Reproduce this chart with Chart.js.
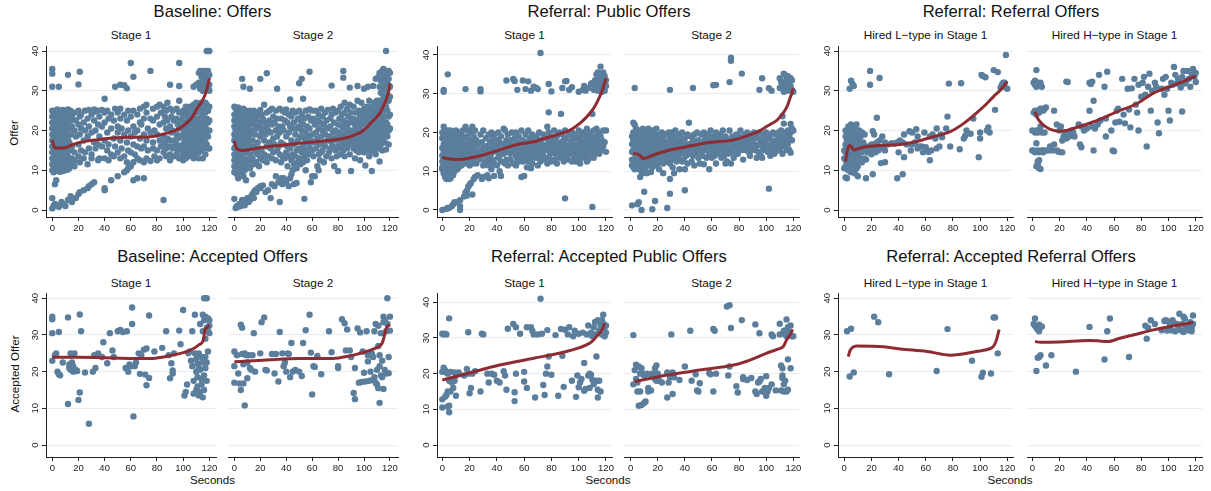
<!DOCTYPE html>
<html>
<head>
<meta charset="utf-8">
<script src="https://cdn.jsdelivr.net/npm/chart.js@4.4.1/dist/chart.umd.min.js"></script>
<style>
    body { margin: 0; background: #fff; width: 1211px; height: 491px; position: relative; overflow: hidden;
           font-family: "Liberation Sans", Arial, Helvetica, sans-serif; color: #111; }
    .t { position: absolute; white-space: nowrap; line-height: 1; transform: translate(-50%, -50%); }
    .gt { font-size: 16.6px; }
    .st { font-size: 11.8px; }
    .at { font-size: 11.6px; }
    .rot { transform: translate(-50%, -50%) rotate(-90deg); }
    canvas { position: absolute; }
</style>
</head>
<body>
<div class="t gt" style="left:212.5px;top:11.5px">Baseline: Offers</div>
<div class="t gt" style="left:609px;top:11.5px">Referral: Public Offers</div>
<div class="t gt" style="left:1011px;top:11.5px">Referral: Referral Offers</div>
<div class="t gt" style="left:212.5px;top:257px">Baseline: Accepted Offers</div>
<div class="t gt" style="left:609px;top:257px">Referral: Accepted Public Offers</div>
<div class="t gt" style="left:1011px;top:257px">Referral: Accepted Referral Offers</div>

<div class="t st" style="left:131px;top:36px">Stage 1</div>
<div class="t st" style="left:313px;top:36px">Stage 2</div>
<div class="t st" style="left:524.5px;top:36px">Stage 1</div>
<div class="t st" style="left:711.5px;top:36px">Stage 2</div>
<div class="t st" style="left:925.5px;top:36px">Hired L−type in Stage 1</div>
<div class="t st" style="left:1114.5px;top:36px">Hired H−type in Stage 1</div>
<div class="t st" style="left:131px;top:283.5px">Stage 1</div>
<div class="t st" style="left:313px;top:283.5px">Stage 2</div>
<div class="t st" style="left:524.5px;top:283.5px">Stage 1</div>
<div class="t st" style="left:711.5px;top:283.5px">Stage 2</div>
<div class="t st" style="left:925.5px;top:283.5px">Hired L−type in Stage 1</div>
<div class="t st" style="left:1114.5px;top:283.5px">Hired H−type in Stage 1</div>

<div class="t at rot" style="left:14px;top:133px">Offer</div>
<div class="t at rot" style="left:14.5px;top:374px">Accepted Offer</div>
<div class="t at" style="left:212.5px;top:480px">Seconds</div>
<div class="t at" style="left:608px;top:480px">Seconds</div>
<div class="t at" style="left:1010px;top:480px">Seconds</div>

<script>
(function() {
    'use strict';

    const xTicks = [0, 20, 40, 60, 80, 100, 120];
    const yTicks = [0, 10, 20, 30, 40];

    // --- Baseline: offers, stage 1  (columns: [second, [offers...]])
    const blOffS1 = [
        [0,[35.5,34.3,31,25,23.5,22,20.5,19,17.5,16,14.5,13,11.5,10,3,0.4]],
        [1,[24.5,21,18,15,12,9.5,1]],
        [2,[25,23,21.5,20,18.5,16.5,14,12.5,11,6.5,1.5]],
        [3,[24,22,19.5,17,15.5,13,10.5,7.5]],
        [4,[25.3,23,21,18,15,12,9.8,1]],
        [5,[31,24.5,22,20,17.5,16,13.5,11,10,0.8]],
        [6,[25,23.5,21.5,19,16.5,14,12.5,9.6]],
        [7,[24,22,20.5,18,15,12,10.5,2]],
        [8,[25.2,22.5,19.5,17,14.5,11.5,9.8,1.5]],
        [9,[24,21,18.5,16,13,10.5]],
        [10,[25,23,20,17.5,15,12.5,10,1]],
        [11,[24.5,22,19,14,11]],
        [12,[34,25.3,23.5,21,18,16.5,13.5,10.2,2.5]],
        [13,[24,20.5,17,12,10.5]],
        [14,[25,22.5,19,15,11.5,3.5]],
        [15,[23.5,21,16,13,2]],
        [17,[24.5,20,14.5,11,12.5]],
        [18,[22.5,18.5,3]],
        [20,[31.6,25,21.5,16.5,13.5,4]],
        [21,[34.8,23.5,19,12,4.5]],
        [22,[24,20.5,15]],
        [24,[22,17.5,13,5]],
        [25,[25,20,14.5]],
        [27,[23,18.5,11.5,5.5]],
        [28,[25.2,21,15.5,6]],
        [30,[24,19.5,14,13,6.5]],
        [32,[25.3,22.5,17,7]],
        [33,[24.8,20,15.5]],
        [35,[25,21.5,16.5,12.5]],
        [36,[23.5,18.5,13]],
        [38,[25.2,21,16]],
        [40,[28,24.5,22,17.5,13,5.5,5]],
        [42,[25,19.5,15]],
        [43,[23,12.5,16.5]],
        [45,[24,20.5,14,7.5]],
        [47,[22.5,18,13.5]],
        [48,[31,25.5,16]],
        [50,[24.5,21,19.5,14.5,8.5]],
        [52,[31.5,25.5,23,17.5,13]],
        [53,[20.5,15.5]],
        [55,[31.4,24,19,13.5,9.5]],
        [57,[30.6,22.5,17,12,10]],
        [58,[25,20,15,10.5]],
        [60,[37,23.5,18.5,14.5,11]],
        [62,[33.5,25,21,16.5,12,7.5]],
        [63,[19.5,14]],
        [65,[24,20,16,13,8]],
        [67,[25.5,22,18,12.5]],
        [68,[21.5,15.5]],
        [70,[26,23,19,16,12,8]],
        [72,[26.5,24.5,17.5,13]],
        [73,[20.5,15]],
        [75,[35,23,19.5,12.3]],
        [77,[25.5,22.5,17,15.5]],
        [78,[20,13.5]],
        [80,[26,23.5,19,15,12.5]],
        [82,[26.5,21.5,17.5,13]],
        [83,[24.5,16]],
        [85,[26,22,18.5,14.5,2.5]],
        [86,[23.5,17]],
        [87,[25,20.5,15.5,13.5]],
        [88,[27,22.5,18,16]],
        [90,[31.5,25.5,21,17.5,14,12.5]],
        [91,[23.5,19.5,16]],
        [92,[25,20,15.5]],
        [93,[22.5,17.5,13.5]],
        [95,[25.5,23,19,16.5,14]],
        [96,[21.5,18,15]],
        [97,[37,31.2,27.5,24.5,20.5,16,13]],
        [98,[22.5,18.5,15.5]],
        [100,[25,23.5,21,19,16.5,14,12.5]],
        [101,[24,20,17.5,15]],
        [102,[26,22,18,15.5,13]],
        [103,[25,21,16.5,14.5]],
        [104,[23,19.5,17,15,13.5]],
        [105,[26,24,21.5,18.5,16,14]],
        [106,[25.5,22.5,20,17,15]],
        [107,[24,21.5,19,16.5,14.5]],
        [108,[31,26.5,23,20,18,15.5,13]],
        [109,[25,22,19.5,17,14]],
        [110,[31.5,27,24.5,21,18.5,16,15]],
        [111,[25.5,23,20,17.5,15.5]],
        [112,[34.5,32,26,22,19,16.5,14.5,13]],
        [113,[35,30.5,25,21.5,18,16]],
        [114,[33.5,31,27,23.5,20.5,17,15]],
        [115,[35,32.5,30,26,24,21,18.5,16.5,13]],
        [116,[34,31.5,25.5,22.5,19.5,17.5,15.5]],
        [117,[35,33,30.5,27,24.5,21,17,14]],
        [118,[40,34.5,32,31,26.5,23,20,16.5]],
        [119,[40,35,33.5,30.5,25,22,18.5,15.5]],
        [120,[40,34,31.5,30,26,22.5,20,15.5]]
    ];
    const blOffS1Fit = [[0,17.6],[1,16.2],[3,15.6],[7,15.6],[11,15.8],[16,16.5],[24,17.2],[35,17.7],[49,18.2],[62,18.3],[75,18.4],[87,19.3],[93,19.9],[98,20.7],[102,21.7],[105,22.6],[108,23.9],[110,25.2],[113,26.6],[115,27.7],[117,29.2],[118,30.2],[119,31.6],[120,33.1]];

    // --- Baseline: offers, stage 2
    const blOffS2 = [
        [0,[26,24,22.5,21,19,17.5,15.5,14,12.5,11,9.5,2.8]],
        [1,[25.5,23,20,18,16,13,10.5,0.5]],
        [2,[24.5,22,19.5,17,14.5,12,9,1]],
        [3,[25.8,23.5,21,18.5,15,13.5,11,8,0.8]],
        [4,[24.5,22.5,20,16.5,12.5,10,1.5]],
        [5,[25,21.5,19,17,14,11.5,9.5,1]],
        [6,[33,24,22,18,15.5,13,10.5,2.5]],
        [7,[31,25.5,23,20.5,17.5,14.5,12,8.5,2]],
        [8,[24,21.5,19,16,13,10,1.2]],
        [9,[25,22.5,20,17,14.5,11.5,7.5,2.5]],
        [10,[23.5,20.5,18,15,12.5,3]],
        [11,[24.5,21,16.5,11,2]],
        [12,[30.5,25,22,19,14,10.5,2.5]],
        [13,[23,20,15.5,12.5,3.5]],
        [14,[24,17.5,13,9,4]],
        [15,[25,21.5,16,11.5,4.5,3]],
        [16,[22.5,19,14.5,5]],
        [17,[24.5,20.5,12,4.5]],
        [18,[23.5,17,14,5.5]],
        [19,[21,15.5,11]],
        [20,[33,25.2,22,18.5,13,5.5,6]],
        [21,[24,19.5,15]],
        [22,[23,20.5,6.2,12.5]],
        [23,[26.5,17.5,14]],
        [24,[22,19,4.5]],
        [25,[34.4,24.5,21,16,12]],
        [26,[20,13.5,5]],
        [27,[25,22.5,17]],
        [28,[19.5,15.5,3]],
        [29,[25.5,21.5,13,6.5]],
        [30,[23.5,18,14.5]],
        [31,[22,16.5,6]],
        [32,[25,20,12.5,8.5]],
        [33,[30.5,23,18.5,15]],
        [34,[21,16,7]],
        [35,[25.5,19.5,14,2]],
        [36,[23,17,12,8]],
        [37,[25,21,13.5,6.5]],
        [38,[20,16.5,8]],
        [39,[24.5,22.5,13,7.5]],
        [40,[25.3,18.5,14.5,7]],
        [41,[22,16,11]],
        [42,[24,19.5,13.5,6]],
        [43,[27.8,21,15.5,8]],
        [44,[23.5,17.5,12.5,9]],
        [45,[25,20.5,14,10]],
        [46,[22,16.5,11.5,6.5]],
        [47,[24.5,19,13.5]],
        [48,[20.5,15,10.5,6.8]],
        [49,[23,17.5,12]],
        [50,[31.9,25,21,15.5,13]],
        [51,[22.5,18.5,11.5]],
        [52,[33,24,20,14.5]],
        [53,[28,21.5,16,12]],
        [54,[23,18,13.5,2.8]],
        [55,[25,19.5,15,10]],
        [56,[21,17,12.5]],
        [57,[23.5,18.5,14]],
        [58,[34.8,25.3,20.5,16]],
        [59,[22.5,17.5,7]],
        [60,[25,19,15,8.5]],
        [61,[23,13.5]],
        [62,[21.5,17,8.5]],
        [63,[25,19.5,15.5]],
        [64,[22.5,18,11]],
        [65,[24,20.5,14,10]],
        [66,[22,16.5,12.5]],
        [67,[25.5,18.5,14.5]],
        [68,[23.5,20,15]],
        [69,[21.5,17,12]],
        [70,[24.5,19,16]],
        [71,[22.5,13.5]],
        [72,[25.2,20.5,17.5]],
        [73,[18.5,14.5]],
        [74,[23,21,15.5]],
        [75,[31.3,24,17,13]],
        [76,[25.5,19.5,16]],
        [77,[22,18,11]],
        [78,[24.5,20,15]],
        [79,[17.5,13.5]],
        [80,[25,21.5,18.5,16,9.8]],
        [81,[23,19.5,15.5]],
        [82,[26,17.5,14]],
        [83,[24,21,18,16.5]],
        [84,[35,33.3,22.5,19,15]],
        [85,[27,24.5,20.5,17.5,13.5]],
        [86,[22,19,16]],
        [87,[25.5,21,18.5,15.5]],
        [88,[23.5,20,17]],
        [89,[30.8,26.5,22,18,14]],
        [90,[24.5,19.5,16.5,9.8]],
        [91,[22.5,20,17.5]],
        [92,[26,23,18.5,15.5]],
        [93,[21.5,17,13]],
        [94,[24.5,20.5,18,15]],
        [95,[31.2,27.5,22.5,19.5,16.5]],
        [96,[25,21,17.5,14.5]],
        [97,[23.5,20,16,12.5]],
        [98,[27,24.5,21.5,18.5,15]],
        [99,[22,19,16.5]],
        [100,[30.5,25.5,23,20,17.5,14.5]],
        [101,[24,21.5,18,15.5,11.2]],
        [102,[26,22.5,19.5,16.5]],
        [103,[31,25,21,18,15]],
        [104,[27.5,23.5,19.5,16,13.5]],
        [105,[25,22,18.5,15.5]],
        [106,[26,23.5,20.5,17,14.5,9.8]],
        [107,[31.2,25.5,22.5,19.5,16]],
        [108,[27,24,21,17.5,15]],
        [109,[33,25,22.5,19,16.5,14]],
        [110,[27.5,24,20.5,18,15.5]],
        [111,[33.5,26,22,19.5,16.5]],
        [112,[34.5,31,27.5,24,21,18,15.5,12.2]],
        [113,[32.5,29.5,25,22.5,19.5,16.5]],
        [114,[35,33,30,26.5,23,20,17.5,15]],
        [115,[35.5,32,28.5,25,21.5,18.5]],
        [116,[34,31,27,23.5,20.5,17]],
        [117,[40,35,33.5,30.5,26,22,19.5,15.2]],
        [118,[34.5,32,29,25,21.5,18.5]],
        [119,[35,33,31,27.5,23.5,20,16.5]],
        [120,[34.5,31,28.5,24,20.5]]
    ];
    const blOffS2Fit = [[0,17.4],[1,16],[3,15.2],[6,15],[10,15.1],[17,15.5],[25,15.9],[37,16.3],[50,16.8],[63,17.2],[76,17.6],[84,18],[89,18.4],[94,19],[98,19.7],[102,20.7],[105,21.8],[109,23.1],[112,24.3],[115,26.2],[117,27.7],[119,29.8],[120,31.9]];

    // --- Referral: public offers, stage 1
    const rfPubS1 = [
        [0,[20,18.5,16,14,12.5,11,10.5,0]],
        [1,[31,30.5,21.5,19.5,17,15,13,11.5,9.5]],
        [2,[20.5,18,15.5,13.5,12,10,8.5]],
        [3,[19,16.5,14.5,12.5,11,8,0.3]],
        [4,[35,20.5,17.5,15,13,11.5,9,0.5]],
        [5,[19.5,16,14,12,10.5,8,0.5]],
        [6,[20.5,18,15,13.5,11.5,9.5,8.2]],
        [7,[19,16.5,14.5,12.5,10.5,1]],
        [8,[20,17.5,15.5,13,11,9,1.5]],
        [9,[18.5,16,14,12,10,2]],
        [10,[20.5,17,15,13,11.5,2]],
        [11,[19,16,14,12.5,10.5]],
        [12,[20,17.5,15.5,13,11]],
        [13,[18.5,14.5,12,2.5,1,0]],
        [14,[19.5,16,13.5,11.5]],
        [15,[20.5,17,14.5,12.5]],
        [16,[18.5,15.5,13,3.5]],
        [17,[31.2,21.5,17,14,12,4.5]],
        [18,[19,16.5,13.5,3.7,5]],
        [19,[20.5,15,12.5,6]],
        [20,[18,14,11.5,6.5]],
        [21,[20,16.5,13,7]],
        [22,[21.5,17.5,14.5,12,4]],
        [23,[19,15.5,8]],
        [24,[20.5,16.5,13.5,8.5]],
        [25,[18,14,12]],
        [26,[17,15,9]],
        [28,[31.2,30.6,19.5,15.5,13]],
        [29,[17.5,14,8]],
        [30,[20.5,16,11.5,8.5]],
        [32,[18.5,15,12.5]],
        [33,[16.5,13.5,9]],
        [34,[19.5,14,11.5,8.2]],
        [35,[17.5,15.5,12.5]],
        [36,[20,14.5,10.5]],
        [37,[18.5,16,13]],
        [38,[19.5,17,8.8,12]],
        [40,[18,15,11.5]],
        [41,[20,16.5,13.5]],
        [42,[17.5,14,10]],
        [43,[19,15.5,12.5,8.8]],
        [45,[21,17,14.5]],
        [46,[20.5,16,12]],
        [47,[33.4,18,15,13]],
        [48,[19.5,16.5,11.5]],
        [50,[18,14.5,13]],
        [51,[20,17,15.5]],
        [52,[33.8,16.5,12]],
        [53,[33.3,18.5,15]],
        [54,[20,14,11.5]],
        [55,[31,17.5,16,13]],
        [56,[19,15.5,12.5]],
        [57,[17,14]],
        [58,[20.5,16,8.5]],
        [59,[33.4,18,15,12.5]],
        [60,[16.5,13.5,8.8]],
        [61,[31.2,19.5,15]],
        [62,[17.5,14,11]],
        [63,[33.2,20.5,16.5,12.5]],
        [64,[18.5,15.5,13]],
        [65,[30.8,17,14,10.8]],
        [66,[19.5,16,12]],
        [67,[31.8,18,14.5]],
        [68,[16.5,13.5]],
        [69,[31.5,19,15]],
        [70,[31.2,17.5,13.5,11.5]],
        [71,[20,16,14.5]],
        [72,[40.5,18,12.5]],
        [73,[17,15]],
        [74,[19.5,14]],
        [75,[16,13]],
        [76,[18.5,15.5]],
        [77,[21.5,17,12]],
        [78,[32.5,25.2,20,16,13.5]],
        [79,[18,14.5]],
        [80,[30.6,19,16.5,12.5]],
        [81,[17.5,15]],
        [82,[20.5,16,13]],
        [83,[18,14.5]],
        [84,[19,15.5,12]],
        [85,[17,16.5]],
        [86,[20,15,13.5]],
        [87,[24.8,17.5]],
        [88,[31.5,19.5,16,14]],
        [89,[18,12.5]],
        [90,[33.2,20.5,17,15,3]],
        [91,[33.3,18.5,14]],
        [92,[16.5,13]],
        [93,[31,19.5,15.5]],
        [94,[17.5,14.5]],
        [95,[31.7,20,16,12.5]],
        [96,[18.5,15,13]],
        [97,[19.5,17,14]],
        [98,[16,12.5]],
        [99,[18.5,15]],
        [100,[30.5,20.5,17,14,13]],
        [101,[19,16,12]],
        [102,[17.5,14.5]],
        [103,[31,20,16.5,13.5]],
        [104,[32,18,15.5]],
        [105,[30.8,19.5,17,14]],
        [106,[21,16,12.5]],
        [107,[31.5,18.5,15,13]],
        [108,[20,17.5,14.5]],
        [109,[32.5,19,16]],
        [110,[32.8,24.8,18,15,0.8]],
        [111,[31,20.5,17,13.5]],
        [112,[33.5,31.5,19,16,14.5]],
        [113,[35,32,21,17.5,15.5]],
        [114,[35.5,33.5,30.8,18.5,16]],
        [115,[34,31.5,20,17,14.5]],
        [116,[37,35,33,31,19,16.5]],
        [117,[34.5,32.5,30.5,18,15.5]],
        [118,[35.5,33.5,31.5,20.5,16.5]],
        [119,[34.5,32.5,30.8,17.5]],
        [120,[33.5,32,20.5,15]]
    ];
    const rfPubS1Fit = [[0,13.6],[4,13.2],[10,13],[15,13.1],[20,13.4],[30,14.2],[42,15.5],[54,16.8],[67,17.6],[79,18.9],[91,20.2],[96,21.1],[101,22.4],[105,23.7],[108,24.9],[111,26.3],[113,27.5],[115,29],[117,30.6],[119,32.8],[120,34]];

    // --- Referral: public offers, stage 2
    const rfPubS2 = [
        [1,[19,17,15,13,11.5,1.2]],
        [2,[22.5,20,18,15.5,12.5,11]],
        [3,[31.5,22,19.5,17.5,14.5,12,10.5]],
        [4,[21,18.5,16,13.5,11.5]],
        [5,[20,17.5,15,12.5,11,1.5]],
        [6,[19,16.5,14,12,10.5,2]],
        [7,[20.5,18,15.5,13,11.5,8.5]],
        [8,[19.5,17,14.5,12.5,10,0]],
        [9,[21,18.5,16,13.5,11.5,9.5]],
        [10,[19.5,17,14.5,12.5,4.7]],
        [11,[20.5,18,15.5,13,11]],
        [12,[19,16.5,14,12,9.5]],
        [13,[21,18,15,13,11.5]],
        [14,[19.5,17,14.5,12.5]],
        [15,[20.5,18,15.5,12,9.8]],
        [16,[19,16.5,13.5,11,0.2]],
        [17,[20.5,17.5,15,12.5]],
        [18,[19.5,16,14,11.5,2.3]],
        [19,[21,18,15.5,13]],
        [20,[17,14.5,12]],
        [21,[19.5,16,13.5,10.5]],
        [22,[18,15,12.5]],
        [23,[20,16.5,14]],
        [24,[18.5,15.5,12,9.5]],
        [25,[17,13.5]],
        [26,[19.5,16,14.5]],
        [27,[17.5,15,12.5,0.5]],
        [28,[20,16.5,13.5]],
        [29,[31,18.5,15,12,4.2,8]],
        [30,[20,16.5,14]],
        [31,[17.5,13,11]],
        [32,[19,15.5,9.5]],
        [33,[20.5,17,14.5]],
        [34,[18,15.5,12.5]],
        [35,[16.5,13.5]],
        [36,[19.5,16,10.5]],
        [37,[18,14.5]],
        [38,[20,17,12.5]],
        [39,[15.5,13]],
        [40,[18.5,16,5.1,10.5]],
        [41,[17,14]],
        [42,[19.5,15.5,12]],
        [43,[22.5,17,14.5]],
        [44,[19,16.5]],
        [45,[15,12.5]],
        [46,[31.5,18,14]],
        [47,[19.5,16,11.5]],
        [48,[17,14.5]],
        [49,[20,15.5]],
        [50,[18,13.5]],
        [51,[16.5,12]],
        [52,[19.5,15]],
        [53,[17.5,14]],
        [54,[20,16,11.8]],
        [55,[18.5,15.5]],
        [56,[17,13.5]],
        [57,[19.5,16.5]],
        [58,[18,14.5,10.5]],
        [59,[20.5,16]],
        [60,[17.5,13.5]],
        [61,[32.2,19,15.5]],
        [62,[17.5,14]],
        [63,[32.3,20,16.5,12]],
        [64,[18.5,15]],
        [65,[17,14.5]],
        [66,[19.5,16]],
        [67,[18,13.5]],
        [68,[20.5,15.5]],
        [69,[17,14]],
        [70,[19,16.5,12]],
        [71,[15.5,12.5]],
        [72,[18,14.5]],
        [73,[33,20.5,16]],
        [74,[39.3,38.5,17.5,12]],
        [75,[19,15]],
        [76,[16.5,13.5]],
        [77,[18,15]],
        [78,[19.5,16]],
        [79,[17.5,14.5]],
        [80,[19,16]],
        [81,[20.5,17.5]],
        [82,[35.2,18,15.5]],
        [83,[16.5,13]],
        [84,[19.5,17]],
        [85,[15.5,18]],
        [86,[20,16.5]],
        [87,[18.5,15]],
        [88,[17,14]],
        [89,[19.5,16.5]],
        [90,[18,15.5]],
        [91,[17,20]],
        [92,[19,15.5]],
        [93,[16.5,13.5]],
        [94,[18.5,15]],
        [95,[31,20,17]],
        [96,[18,14]],
        [97,[34,16.5,13.5]],
        [98,[19.5,15.5]],
        [99,[18,16.5]],
        [100,[20,17]],
        [101,[18.5,15]],
        [102,[31.4,16.5,5.5]],
        [103,[19.5,14]],
        [104,[30.8,18,15.5]],
        [105,[20,16.5]],
        [106,[17.5,14.5]],
        [107,[19.5,15]],
        [108,[18,16.5]],
        [109,[20,17]],
        [110,[34,31.5,18.5,15.5]],
        [111,[33,20.5,16.5]],
        [112,[31.5,24.2,18,14.5]],
        [113,[35.2,33,30.5,22.3,19.5,16.5]],
        [114,[34.8,32,31,20,17.5]],
        [115,[33.5,31.5,18.5,15.5]],
        [116,[34.5,32.5,30.8,20.5,17]],
        [117,[33,31.5,19,15.5]],
        [118,[34,32,22.2,20,14.8]],
        [119,[33.5,31,21,18]],
        [120,[30.5,20.5]]
    ];
    const rfPubS2Fit = [[2,14.6],[5,14.4],[7,14],[9,13.3],[12,13.5],[17,14.2],[27,15.3],[41,16.3],[58,17.4],[76,18.1],[88,19.4],[95,20.4],[100,21.5],[104,22.3],[108,23.2],[111,24.4],[114,25.8],[116,27.2],[117.5,28.8],[119,30.2],[120,31.4]];

    // --- Referral: referral offers, hired L-type in stage 1
    const rfRefL = [
        [0,[10.5,13,15]],
        [1,[20,18.5,16.5,14.5,12.5,11,8.2]],
        [2,[19.5,17.5,15.5,13,11.5,8]],
        [3,[21,19,16.5,14,12,10]],
        [4,[30.5,20,18,15,13.5,11.5]],
        [5,[32.5,21.5,19.5,17,14.5,12.5,9.5]],
        [6,[31.8,20,17.5,15.5,13,11]],
        [7,[31.2,19,16.5,14,12,10]],
        [8,[20.5,18,15,13.5,11.5,9.2]],
        [9,[21.5,17,14.5,12.5,10.5]],
        [10,[19,16,13.5,11,8.5]],
        [11,[20,17.5,15,12.5]],
        [12,[18.5,16,13]],
        [13,[19.5,14.5,12]],
        [14,[17,15.5]],
        [15,[19,13]],
        [16,[8,12.7]],
        [17,[16,14.5]],
        [19,[35,31.5,15]],
        [20,[16.5,14]],
        [21,[19.8,9,15.5]],
        [22,[19,16.5]],
        [23,[14.5]],
        [24,[23.2,16,17]],
        [25,[15]],
        [26,[33.2,17.5]],
        [27,[11.8,15.5]],
        [28,[18.5]],
        [29,[16]],
        [30,[12,17,15]],
        [32,[16.5]],
        [35,[16.8]],
        [37,[16.7]],
        [39,[8,17]],
        [40,[14.5]],
        [41,[17.5]],
        [43,[9,17]],
        [44,[13.3,19]],
        [46,[16.5]],
        [48,[19.8]],
        [49,[15]],
        [50,[16.5,19.5]],
        [52,[17]],
        [53,[20.3]],
        [54,[18.5,15.5]],
        [55,[16]],
        [57,[16]],
        [58,[14.5]],
        [59,[19.5]],
        [60,[15.8]],
        [62,[14.6]],
        [63,[12.5,18.5]],
        [64,[15]],
        [65,[19]],
        [67,[18]],
        [68,[20.5,15.5]],
        [70,[16]],
        [71,[19]],
        [72,[18.3]],
        [75,[20.5]],
        [76,[23.5]],
        [77,[31.8]],
        [78,[16]],
        [85,[15.3]],
        [86,[31.9]],
        [88,[18]],
        [89,[18.6]],
        [90,[20]],
        [93,[19.2]],
        [95,[23]],
        [99,[13.3]],
        [100,[18,19.5]],
        [101,[34]],
        [102,[33.7]],
        [104,[33.4]],
        [105,[20]],
        [106,[20.8]],
        [107,[19.5]],
        [110,[35.2]],
        [111,[25.2]],
        [113,[34.7]],
        [115,[30.8]],
        [116,[31.5]],
        [117,[32]],
        [118,[32,31]],
        [119,[39]],
        [120,[30.5]]
    ];
    const rfRefLFit = [[1,12.2],[2,14.5],[3.7,16.2],[5,16],[7,15.1],[10,15.4],[16,15.9],[25,16.2],[41,16.5],[53,17.2],[65,18.4],[78,19.7],[88,21.8],[97,24.3],[105,26.8],[110,28.6],[115,30.2],[120,32.3]];

    // --- Referral: referral offers, hired H-type in stage 1
    const rfRefH = [
        [0,[20,15]],
        [1,[32,24.5,15]],
        [2,[31.5,32.5,25,19.5,14.5]],
        [3,[35.2,32,31,24,20,16.8,14.8,11]],
        [4,[32,25,19.5,15,12.2,11.5]],
        [5,[31.5,24.5,20,14.5,10.5,12.5]],
        [6,[32,25.5,21,14.8,10.3]],
        [7,[31,25.5,19.5,15]],
        [8,[25,15,14.5]],
        [9,[25.5,19.5]],
        [10,[25.8,15]],
        [12,[15]],
        [13,[16]],
        [15,[15]],
        [16,[25,16.5]],
        [18,[21.5,15]],
        [19,[14.7]],
        [20,[20,14.6]],
        [21,[21]],
        [22,[17.5,14.5]],
        [23,[18.5]],
        [24,[19.5]],
        [25,[32.3,18]],
        [26,[32.2]],
        [27,[18.5,19]],
        [29,[20]],
        [30,[19.5]],
        [31,[18.5]],
        [34,[21.5]],
        [35,[16.5]],
        [36,[15.8,21]],
        [38,[20]],
        [40,[20.5]],
        [42,[25,32]],
        [43,[31.7]],
        [44,[32.3,21]],
        [45,[27.5,15]],
        [46,[20.5]],
        [48,[21.5]],
        [49,[34]],
        [50,[22.5]],
        [53,[31]],
        [54,[23,18.5]],
        [55,[34.8]],
        [58,[20]],
        [59,[15]],
        [60,[14.8]],
        [61,[22]],
        [62,[25]],
        [63,[25.5]],
        [64,[22.2]],
        [66,[33]],
        [67,[24]],
        [68,[21.8]],
        [70,[30.5]],
        [71,[25.3]],
        [72,[20.8]],
        [73,[30.6]],
        [75,[33]],
        [76,[26.5]],
        [77,[24.5]],
        [78,[31.5,20]],
        [80,[28.5]],
        [81,[32]],
        [82,[33.5]],
        [83,[29]],
        [84,[16]],
        [85,[31]],
        [86,[34.3]],
        [87,[25]],
        [88,[30]],
        [90,[32]],
        [91,[31]],
        [92,[22]],
        [93,[19.3]],
        [95,[30.5]],
        [96,[33]],
        [97,[29]],
        [98,[33.5]],
        [99,[30.5]],
        [100,[25]],
        [101,[22.5]],
        [102,[32]],
        [103,[31.5]],
        [104,[36]],
        [105,[34]],
        [106,[31.8]],
        [107,[33]],
        [108,[32]],
        [109,[30.8]],
        [110,[33.5,24.8]],
        [111,[35]],
        [112,[31.8]],
        [113,[32.5]],
        [114,[35]],
        [115,[33]],
        [116,[31]],
        [117,[34]],
        [118,[35.5]],
        [119,[33.5]],
        [120,[34.5,32.2]]
    ];
    const rfRefHFit = [[2,24.7],[4,23],[8,21.4],[12,20.5],[15,20.1],[20,19.8],[25,20],[30,20.5],[45,22.2],[62,24.7],[77,26.8],[89,29.4],[104,31.4],[112,32.5],[120,33.7]];

    // --- Baseline: accepted offers, stage 1  ([second, offer] pairs)
    const blAccS1 = [[0,35],[0,34.3],[0,30.5],[0,23],[2,24.5],[3,25],[4,20],[5,30.8],[5,19.3],[6,19],[8,22.5],[12,34.8],[12,11.2],[13,21],[13,22],[14,25],[14,20.5],[15,22.5],[16,21.5],[16,20],[17,25],[18,20.5],[19,20.2],[20,12.3],[21,14.3],[21,35.6],[22,31],[25,19.8],[28,5.8],[31,20],[32,24.5],[33,21],[35,25],[38,24],[39,28],[42,22.3],[44,30.5],[46,25.8],[47,24],[50,31],[52,31.4],[54,30.8],[56,21],[57,31],[58,20],[59,22],[60,21.5],[61,37.5],[61,33],[62,7.8],[63,21.5],[64,22.5],[66,25],[67,19.4],[68,24.5],[70,26],[71,19.2],[72,26.3],[72,16.3],[74,35.3],[74,18.3],[78,25.5],[84,26.5],[87,31],[89,24.5],[90,18.2],[91,22.3],[92,20.3],[92,19.5],[93,25],[97,31.2],[98,27.5],[100,36.8],[101,13.5],[102,14.5],[103,16.5],[104,25],[105,25.5],[106,23],[107,21.5],[107,31],[108,17.5],[108,14],[109,25],[109,35.5],[110,20],[110,15],[110,23.5],[111,16],[111,22.3],[111,18.5],[112,13.5],[112,25],[112,21],[113,20.5],[113,14.5],[113,33],[114,18],[114,24],[114,16.5],[115,31],[115,35.5],[115,13],[115,22.5],[116,40],[116,34],[116,19],[116,15],[117,21],[117,29],[117,24],[117,35],[118,40],[118,32],[118,22.5],[118,17.5],[119,31],[119,25.5],[119,34.5],[120,32.5],[120,34],[120,30.5]];
    const blAccS1Fit = [[0,23.9],[20,23.9],[40,23.8],[60,23.6],[75,23.6],[85,24],[92,24.5],[100,25.2],[103,25.5],[108,26.3],[112,27.3],[115.4,28.6],[116.7,31.4],[118,32],[120,32.7]];

    // --- Baseline: accepted offers, stage 2
    const blAccS2 = [[0,25.5],[0,21.5],[0,17],[2,24.5],[3,19.5],[4,16.8],[5,15],[5,32.8],[6,32],[6,24.8],[7,16.8],[7,22],[8,10.8],[8,25],[9,24.5],[10,18.2],[10,22.5],[11,24.5],[12,21],[13,20.5],[14,24.5],[15,30.5],[16,20],[20,25],[21,33.5],[23,34.8],[24,20.5],[25,20.3],[29,24.8],[31,19.5],[32,24.8],[34,17.3],[35,30.8],[37,25],[38,21.5],[39,22.5],[40,20],[41,25],[42,24.8],[43,18.5],[44,27.8],[45,20],[47,20.5],[50,20],[52,18.8],[53,27.8],[55,31.3],[58,35.5],[59,25.2],[60,13.8],[61,21.5],[62,21.3],[64,24.3],[67,19.3],[73,31],[75,25.3],[80,21.5],[80,21],[83,34.3],[85,33.2],[87,31.5],[86,25.8],[89,25.8],[90,24],[92,14.2],[93,12.5],[93,21],[95,31.8],[96,17],[97,30.7],[98,17.2],[99,25.5],[100,19.7],[101,17.3],[102,31],[103,24.5],[103,22.8],[104,17.5],[105,20],[106,17.7],[106,25],[107,24],[108,18.5],[108,31],[109,17],[109,33],[110,16.5],[110,20.5],[111,15.5],[111,27],[111,32.5],[112,11.5],[112,21.5],[112,24.5],[113,19],[113,30.5],[114,18.5],[114,23],[115,35],[115,33.5],[115,15.3],[116,20.5],[116,34],[117,19.5],[117,31],[118,40],[118,33],[119,24],[119,19.6],[120,31.2],[120,35]];
    const blAccS2Fit = [[0,22.7],[10,22.9],[25,23.2],[50,23.6],[76,23.6],[89,24.3],[96,24.9],[102,25.5],[108,26.3],[112,27],[114,27.8],[115.5,29.5],[117,31.6],[118.5,32.5],[120,32.8]];

    // --- Referral: accepted public offers, stage 1
    const rfAccS1 = [[0,31.2],[0,20.5],[0,12.8],[0,10.5],[1,21.7],[1,31],[2,31.2],[2,21],[2,13.5],[3,31],[3,20.3],[3,14],[4,20],[4,15],[4,10.8],[5,35.5],[5,18],[5,11],[5,9.2],[6,20.5],[6,15],[7,17.5],[8,18.5],[8,16],[9,20.3],[9,18],[10,13.8],[10,19.5],[12,20.3],[16,19.5],[18,21.3],[19,31.6],[19,20],[20,14.5],[21,16],[22,20],[24,20.7],[28,15],[29,31.2],[30,31],[33,20],[34,17.5],[36,20],[38,19.7],[40,18],[42,17.5],[45,20.7],[46,19.5],[47,15.5],[48,32.6],[52,33.9],[53,12.3],[53,14.8],[54,20],[54,33],[57,31.2],[60,20.5],[60,17.8],[62,33],[62,16],[65,33],[66,32],[67,31],[68,13.3],[70,31],[72,41],[73,31.2],[74,16.8],[75,14],[76,20],[77,32.2],[77,22],[78,24.8],[80,19.7],[83,30.8],[85,13.8],[87,32.5],[88,25],[89,16.3],[90,32.3],[92,31],[93,33],[95,18],[96,30.5],[97,32],[98,13.5],[99,19.5],[100,31.2],[100,16.2],[101,17.5],[102,18.5],[103,31.5],[104,23],[104,15.2],[105,15.7],[106,31],[107,19.5],[107,33.5],[108,20],[108,16],[109,19.7],[109,31.5],[110,30.5],[110,18.3],[111,33],[111,17],[112,31],[112,34.5],[113,24.8],[113,18],[114,35],[114,13.3],[114,15.5],[115,32],[115,18],[116,33.5],[116,15],[117,35],[117,31],[118,36.5],[118,34],[119,33],[119,30.5],[120,33.5],[120,31.5]];
    const rfAccS1Fit = [[0,18.2],[20,20.2],[42,22.4],[67,24.3],[91,26.2],[100,27.2],[108,28.5],[111,29.5],[113,30.4],[115,31.3],[117,32.2],[119,34.1]];

    // --- Referral: accepted public offers, stage 2
    const rfAccS2 = [[2,30.8],[2,17],[3,21],[4,22.5],[4,18.5],[5,17.5],[5,15],[6,11],[6,22],[7,15],[7,20],[8,21.5],[8,11.2],[9,20],[10,11.8],[10,19.5],[11,12.2],[12,20],[13,16],[13,15],[14,19.8],[15,15.3],[16,20],[17,19.5],[18,21.5],[18,18.5],[19,22.3],[19,18],[20,20],[21,18],[23,17.5],[27,20.3],[27,13.3],[28,17.5],[29,19],[30,31],[31,14.3],[31,20.3],[32,19],[36,18.2],[40,22],[44,32],[45,18],[48,19.8],[49,15.3],[50,15],[51,17.3],[58,20.2],[59,19.8],[61,32.5],[61,15],[62,32],[63,20],[71,38.8],[72,19.5],[73,39.2],[73,22],[74,32.8],[78,16.5],[79,14.7],[82,35],[83,19],[83,18.5],[86,18.2],[89,18.8],[92,33.8],[92,15],[93,14.3],[94,17.5],[95,17.8],[95,31.3],[96,18.5],[97,15],[99,16],[100,19.3],[100,13.8],[101,15],[102,16],[104,17],[104,31],[105,30.5],[107,15.3],[110,34],[110,31],[111,22.3],[111,15.3],[112,21.5],[112,19.5],[112,18.8],[113,32],[113,15],[113,17],[114,31],[114,18],[115,35.2],[115,30.5],[115,15],[116,33],[116,24],[116,15.5],[117,31.5],[118,33.5],[118,21.5],[119,30.5],[120,30.5]];
    const rfAccS2Fit = [[3,17.8],[15,18.7],[27,19.6],[51,21],[76,22.4],[88,23.8],[100,25.7],[108,26.8],[112.6,27.6],[115,29.4],[117.5,30.8],[119.5,32.4]];

    // --- Referral: accepted referral offers, hired L-type / H-type
    const rfAccL = [[2,31],[4,18.7],[5,31.7],[7,19.8],[22,35],[25,33.5],[33,19.3],[68,20.2],[76,31.6],[94,23],[101,18.6],[102,19.7],[108,19.5],[110,34.8],[111,34.8],[113,25]];
    const rfAccLFit = [[3,24.1],[4,25.5],[5.4,26.4],[9,27],[29,26.8],[41,26.2],[61,25.5],[78,24.5],[97,25.5],[108,26.4],[110,27],[112,28.6],[113,30],[114,31.5]];
    const rfAccH = [[1,33],[2,34.5],[2,32.5],[3,32],[3,20.2],[4,23.8],[4,31.5],[5,24],[5,32.8],[5,31],[6,32.2],[6,24.5],[7,32.3],[10,21.7],[14,24.5],[32,20],[42,32.2],[53,23.3],[55,31],[57,34.5],[71,24],[83,32.5],[84,29],[85,32],[87,34],[90,33],[95,31.3],[97,33.8],[98,34],[99,31.2],[100,33.7],[101,33],[102,31.3],[103,34],[104,33.3],[105,31],[106,33],[107,32.5],[108,35.8],[109,31.3],[110,33],[111,30.8],[111,35],[112,34.5],[113,32],[114,31.3],[115,33],[116,33.5],[117,32],[117,31],[118,35.3],[118,33]];
    const rfAccHFit = [[2,28.2],[6,28],[20,28.1],[42,28.5],[48,28.4],[55,28.2],[65,29.2],[74,30],[89,31.4],[104,32.5],[112,33],[118,33.4]];

    const BLUE = '#5a7e9c';
    const RED = '#8e2c33';
    const GRID = '#e6eef2';
    const AXIS = '#222';
    const FONT = '"Liberation Sans", Arial, Helvetica, sans-serif';

    function fromCols(cols) {
        const out = [];
        cols.forEach(([x, ys]) => ys.forEach(y => out.push({x: x, y: y})));
        return out;
    }
    function fromPairs(pairs) {
        return pairs.map(([x, y]) => ({x: x, y: y}));
    }

    // rotated y tick labels (Stata style)
    const yLabels = {
        id: 'yLabels',
        afterDraw(chart) {
            if (!chart.options.plugins.yLabels.show) return;
            const s = chart.scales.y, ctx = chart.ctx;
            ctx.save();
            ctx.fillStyle = '#222';
            ctx.font = '9.5px ' + FONT;
            ctx.textAlign = 'center';
            ctx.textBaseline = 'middle';
            yTicks.forEach(v => {
                ctx.save();
                ctx.translate(chart.chartArea.left - 11, s.getPixelForValue(v));
                ctx.rotate(-Math.PI / 2);
                ctx.fillText(String(v), 0, 0);
                ctx.restore();
            });
            ctx.restore();
        }
    };

    // panel layout: plot box (L,R,T,B) in page pixels, axis ranges
    const R1 = {T: 46, B: 217}, R2 = {T: 293, B: 457};
    const panels = [
        {pts: fromCols(blOffS1), fit: blOffS1Fit, L: 46,   R: 216,  row: R1, x: [-4.8, 125.1], y: [-1.76, 41.26], axis: true},
        {pts: fromCols(blOffS2), fit: blOffS2Fit, L: 228,  R: 398,  row: R1, x: [-4.9, 126.2], y: [-1.76, 41.26], axis: false},
        {pts: fromCols(rfPubS1), fit: rfPubS1Fit, L: 437,  R: 612,  row: R1, x: [-3.9, 124.4], y: [-1.81, 42.32], axis: true},
        {pts: fromCols(rfPubS2), fit: rfPubS2Fit, L: 624,  R: 799,  row: R1, x: [-4.9, 124.2], y: [-1.81, 42.32], axis: false},
        {pts: fromCols(rfRefL),  fit: rfRefLFit,  L: 838,  R: 1013, row: R1, x: [-4.6, 124.2], y: [-1.76, 41.26], axis: true},
        {pts: fromCols(rfRefH),  fit: rfRefHFit,  L: 1027, R: 1202, row: R1, x: [-3.9, 124.6], y: [-1.76, 41.26], axis: false},
        {pts: fromPairs(blAccS1), fit: blAccS1Fit, L: 46,   R: 216,  row: R2, x: [-4.8, 125.1], y: [-3.27, 41.45], axis: true},
        {pts: fromPairs(blAccS2), fit: blAccS2Fit, L: 228,  R: 398,  row: R2, x: [-4.9, 126.2], y: [-3.27, 41.45], axis: false},
        {pts: fromPairs(rfAccS1), fit: rfAccS1Fit, L: 437,  R: 612,  row: R2, x: [-3.9, 124.4], y: [-3.36, 42.6], axis: true},
        {pts: fromPairs(rfAccS2), fit: rfAccS2Fit, L: 624,  R: 799,  row: R2, x: [-4.9, 124.2], y: [-3.36, 42.6], axis: false},
        {pts: fromPairs(rfAccL),  fit: rfAccLFit,  L: 838,  R: 1013, row: R2, x: [-4.6, 124.2], y: [-3.27, 41.45], axis: true},
        {pts: fromPairs(rfAccH),  fit: rfAccHFit,  L: 1027, R: 1202, row: R2, x: [-3.9, 124.6], y: [-3.27, 41.45], axis: false}
    ];

    function makePanel(p) {
        const cv = document.createElement('canvas');
        const w = p.R - p.L + 30 + 12;
        const h = p.row.B - p.row.T + 6 + 22;
        cv.width = w; cv.height = h;
        cv.style.width = w + 'px'; cv.style.height = h + 'px';
        cv.style.left = (p.L - 30) + 'px';
        cv.style.top = (p.row.T - 6) + 'px';
        document.body.appendChild(cv);

        new Chart(cv, {
            type: 'scatter',
            data: {
                datasets: [{
                    type: 'line',
                    data: fromPairs(p.fit),
                    borderColor: RED,
                    borderWidth: 3,
                    pointRadius: 0,
                    fill: false,
                    cubicInterpolationMode: 'monotone',
                    order: 0,
                    clip: false
                }, {
                    data: p.pts,
                    backgroundColor: BLUE,
                    borderWidth: 0,
                    pointRadius: 3.2,
                    order: 1,
                    clip: false
                }]
            },
            options: {
                responsive: false,
                animation: false,
                devicePixelRatio: 1,
                events: [],
                layout: { padding: { left: 0, right: 12, top: 6, bottom: 0 } },
                plugins: {
                    legend: { display: false },
                    tooltip: { enabled: false },
                    yLabels: { show: p.axis }
                },
                scales: {
                    x: {
                        type: 'linear',
                        min: p.x[0], max: p.x[1],
                        afterBuildTicks: s => { s.ticks = xTicks.map(v => ({value: v})); },
                        afterFit: s => { s.height = 22; },
                        grid: { drawOnChartArea: false, drawTicks: true, tickLength: 4, tickColor: AXIS },
                        border: { display: true, color: AXIS, width: 1 },
                        ticks: { font: { size: 9.5, family: FONT }, color: '#222', padding: 2,
                                 maxRotation: 0, minRotation: 0, autoSkip: false }
                    },
                    y: {
                        type: 'linear',
                        min: p.y[0], max: p.y[1],
                        afterBuildTicks: s => { s.ticks = yTicks.map(v => ({value: v})); },
                        afterFit: s => { s.width = 30; },
                        grid: { color: GRID, lineWidth: 1, drawTicks: p.axis, tickLength: 4, tickColor: AXIS },
                        border: { display: p.axis, color: AXIS, width: 1 },
                        ticks: { display: false }
                    }
                }
            },
            plugins: [yLabels]
        });
    }

    panels.forEach(makePanel);
})();
</script>
</body>
</html>
